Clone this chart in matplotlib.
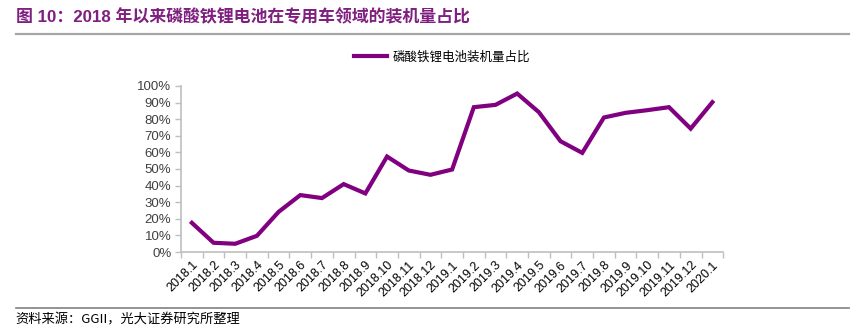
import matplotlib
matplotlib.use("Agg")
import matplotlib.pyplot as plt
from matplotlib.lines import Line2D
from matplotlib.ticker import FixedLocator, PercentFormatter

plt.rcParams['font.family'] = ['Liberation Sans', 'Noto Sans CJK SC', 'DejaVu Sans']

months = ["2018.1", "2018.2", "2018.3", "2018.4", "2018.5", "2018.6", "2018.7",
          "2018.8", "2018.9", "2018.10", "2018.11", "2018.12", "2019.1", "2019.2",
          "2019.3", "2019.4", "2019.5", "2019.6", "2019.7", "2019.8", "2019.9",
          "2019.10", "2019.11", "2019.12", "2020.1"]
lfp_share = [17.6, 5.6, 5.0, 9.8, 24.2, 34.3, 32.5, 40.9, 35.3, 57.5, 49.1, 46.5,
             49.7, 87.2, 88.6, 95.4, 84.2, 66.7, 59.7, 81.0, 83.8, 85.4, 87.2,
             74.3, 90.2]
series_name = "磷酸铁锂电池装机量占比"
title = "图 10：2018 年以来磷酸铁锂电池在专用车领域的装机量占比"
source = "资料来源：GGII，光大证券研究所整理"

purple = "#800080"
axis_gray = "#BFBFBF"
text_color = "#404040"

fig = plt.figure(figsize=(8.62, 3.33), dpi=100)
ax = fig.add_axes([0.21, 0.243, 0.629, 0.499])

x = list(range(len(months)))
ax.plot(x, lfp_share, color=purple, linewidth=3.0, solid_joinstyle="miter")

ax.set_xlim(-0.5, len(months) - 0.5)
ax.set_ylim(0, 100)
ax.yaxis.set_major_locator(FixedLocator(range(0, 101, 10)))
ax.yaxis.set_major_formatter(PercentFormatter(decimals=0))
ax.set_xticks(x)
ax.set_xticklabels(months, rotation=45, ha="right", rotation_mode="anchor")
ax.set_xticks([i - 0.5 for i in range(len(months) + 1)], minor=True)
ax.tick_params(axis="x", which="major", length=0, pad=5, labelsize=9, labelcolor="#000000")
ax.tick_params(axis="x", which="minor", length=4, color=axis_gray, width=1)
ax.tick_params(axis="y", length=4, color=axis_gray, width=1, labelsize=9.5,
               labelcolor=text_color, pad=3)

for side in ("top", "right"):
    ax.spines[side].set_visible(False)
for side in ("left", "bottom"):
    ax.spines[side].set_color(axis_gray)
    ax.spines[side].set_linewidth(1.2)

handle = Line2D([], [], color=purple, linewidth=3.0)
fig.legend([handle], [series_name], loc="center", bbox_to_anchor=(0.513, 0.829),
           frameon=False, handlelength=2.6, handletextpad=0.5,
           prop={'family': ['Noto Sans CJK SC'], 'size': 9})

fig.text(0.018, 0.948, title, fontsize=12.2, fontweight="bold", color="#7F1F7F",
         va="center", ha="left", family=['Liberation Sans', 'Noto Sans CJK SC'])
fig.add_artist(Line2D([0.018, 0.985], [0.898, 0.898], color="#A6A6A6", linewidth=1.6))
fig.add_artist(Line2D([0.018, 0.985], [0.076, 0.076], color="#808080", linewidth=1.2))
fig.text(0.018, 0.039, source, fontsize=9.5, color="#000000", va="center", ha="left",
         family=['Noto Sans CJK SC', 'Liberation Sans'])

fig.savefig("out.png", dpi=100)
